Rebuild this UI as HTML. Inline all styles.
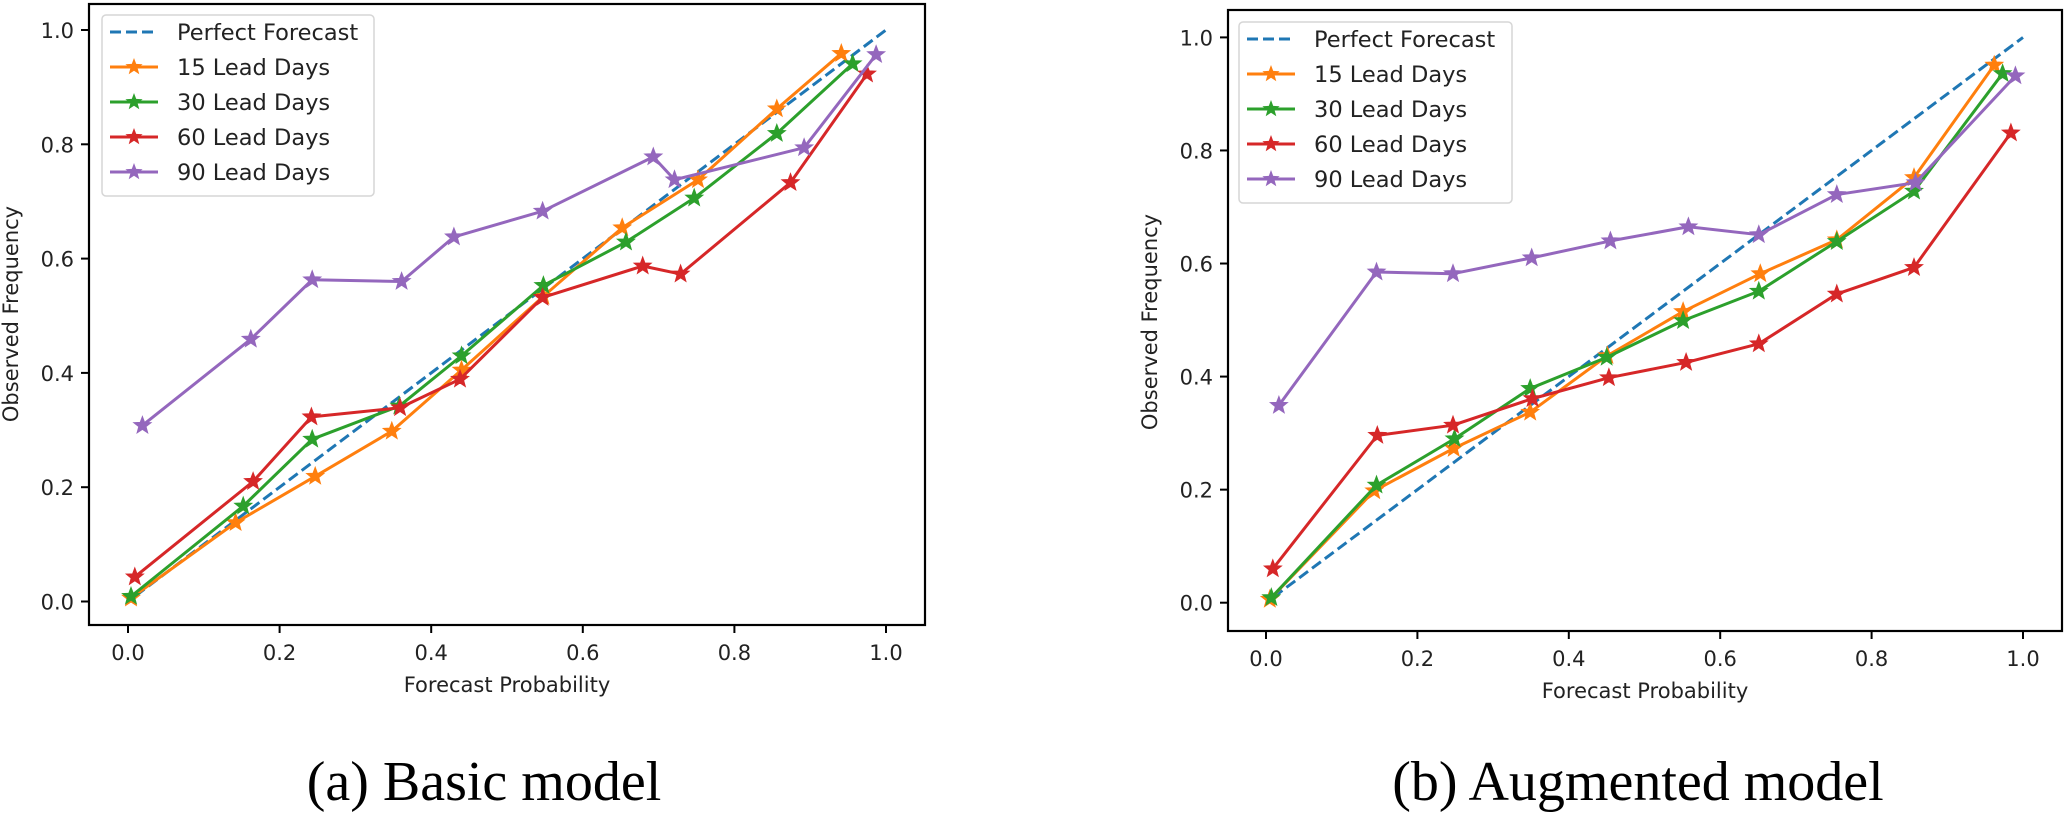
<!DOCTYPE html>
<html><head><meta charset="utf-8"><style>
html,body{margin:0;padding:0;background:#fff;}
svg{display:block;font-family:"DejaVu Sans","Liberation Sans",sans-serif;}
</style></head><body>
<svg id="chart" width="2067" height="815" viewBox="0 0 2067 815"></svg>
<script>
const categoriesSeries = ["Perfect Forecast","15 Lead Days","30 Lead Days","60 Lead Days","90 Lead Days"];
const colors = ["#1f77b4","#ff7f0e","#2ca02c","#d62728","#9467bd"];
const tickVals = [0,0.2,0.4,0.6,0.8,1.0];
const tickLabels = ["0.0","0.2","0.4","0.6","0.8","1.0"];

const a15x=[0.004,0.142,0.247,0.348,0.44,0.548,0.652,0.752,0.856,0.941];
const a15y=[0.006,0.138,0.219,0.298,0.405,0.534,0.654,0.738,0.862,0.959];
const a30x=[0.004,0.152,0.243,0.358,0.44,0.548,0.657,0.747,0.856,0.956];
const a30y=[0.009,0.167,0.284,0.342,0.43,0.553,0.629,0.706,0.819,0.941];
const a60x=[0.009,0.165,0.242,0.359,0.438,0.547,0.679,0.729,0.874,0.975];
const a60y=[0.043,0.21,0.323,0.339,0.389,0.532,0.587,0.573,0.733,0.923];
const a90x=[0.019,0.162,0.243,0.361,0.43,0.547,0.693,0.721,0.892,0.987];
const a90y=[0.308,0.459,0.563,0.56,0.638,0.683,0.778,0.738,0.794,0.957];

const b15x=[0.005,0.143,0.248,0.349,0.451,0.551,0.653,0.754,0.856,0.962];
const b15y=[0.006,0.198,0.273,0.337,0.437,0.515,0.582,0.642,0.752,0.951];
const b30x=[0.007,0.146,0.249,0.349,0.45,0.551,0.651,0.754,0.856,0.973];
const b30y=[0.009,0.208,0.29,0.379,0.434,0.499,0.551,0.639,0.728,0.936];
const b60x=[0.009,0.147,0.247,0.352,0.453,0.555,0.651,0.754,0.856,0.984];
const b60y=[0.06,0.296,0.314,0.361,0.398,0.425,0.458,0.546,0.593,0.831];
const b90x=[0.017,0.146,0.247,0.351,0.455,0.558,0.651,0.754,0.858,0.99];
const b90y=[0.349,0.585,0.582,0.61,0.64,0.665,0.651,0.722,0.743,0.932];

const perfectX=[0.01,1.0];
const perfectY=[0.01,1.0];

const NS="http://www.w3.org/2000/svg";
const svg=document.getElementById('chart');
function mk(tag,attrs,parent){const e=document.createElementNS(NS,tag);for(const k in attrs)e.setAttribute(k,attrs[k]);(parent||svg).appendChild(e);return e;}
function starPts(cx,cy,R){const r=R*0.42;let p=[];for(let i=0;i<10;i++){const ang=-Math.PI/2+i*Math.PI/5;const rr=i%2?r:R;p.push((cx+rr*Math.cos(ang)).toFixed(1)+","+(cy+rr*Math.sin(ang)).toFixed(1));}return p.join(" ");}

function panel(cfg){
  const g=mk('g',{});
  
  
  const sx=v=>cfg.x0+v*cfg.xu, sy=v=>cfg.y0-v*cfg.yu;
  // series
  const series=cfg.series;
  // perfect
  const pl=mk('polyline',{points:perfectX.map((x,i)=>sx(x)+","+sy(perfectY[i])).join(" "),fill:"none",stroke:colors[0],"stroke-width":3,"stroke-dasharray":"11,5"},g);
  
  
  series.forEach((s,k)=>{
    const c=colors[k+1];
    const line=mk('polyline',{points:s[0].map((x,i)=>sx(x)+","+sy(s[1][i])).join(" "),fill:"none",stroke:c,"stroke-width":3,"stroke-linejoin":"round"},g);
    
    
    s[0].forEach((x,i)=>{
      const m=mk('polygon',{points:starPts(sx(x),sy(s[1][i]),9),fill:c,stroke:c,"stroke-width":1},g);
      
      
    });
  });
  // axes frame
  const fr=mk('rect',{x:cfg.L,y:cfg.T,width:cfg.R-cfg.L,height:cfg.B-cfg.T,fill:"none",stroke:"#000","stroke-width":2.2},g);
  
  
  tickVals.forEach((v,i)=>{
    mk('line',{x1:sx(v),x2:sx(v),y1:cfg.B,y2:cfg.B+8,stroke:"#000","stroke-width":2},g);
    const tx=mk('text',{x:sx(v),y:cfg.B+35,"text-anchor":"middle","font-size":21,fill:"#222"},g);
    tx.textContent=tickLabels[i];
    
    
    mk('line',{x1:cfg.L-8,x2:cfg.L,y1:sy(v),y2:sy(v),stroke:"#000","stroke-width":2},g);
    const ty=mk('text',{x:cfg.L-15,y:sy(v)+8,"text-anchor":"end","font-size":21,fill:"#222"},g);
    ty.textContent=tickLabels[i];
    
    
  });
  const xl=mk('text',{x:(cfg.L+cfg.R)/2,y:cfg.B+67,"text-anchor":"middle","font-size":21,fill:"#222"},g);
  xl.textContent="Forecast Probability";
  
  
  const yl=mk('text',{x:0,y:0,"text-anchor":"middle","font-size":21,fill:"#222",transform:`translate(${cfg.ylx},${cfg.yly}) rotate(-90)`},g);
  yl.textContent="Observed Frequency";
  
  
  // legend
  const lg=mk('g',{},g);
  
  
  mk('rect',{x:cfg.lx,y:cfg.ly,width:cfg.lw,height:181,rx:4,fill:"#fff","fill-opacity":0.85,stroke:"#d6d6d6","stroke-width":1.5},lg);
  categoriesSeries.forEach((n,k)=>{
    const yy=cfg.ly+17+k*35;
    const hx=cfg.lx+8;
    if(k===0) mk('line',{x1:hx,x2:hx+48,y1:yy,y2:yy,stroke:colors[0],"stroke-width":3,"stroke-dasharray":"11,5"},lg);
    else {mk('line',{x1:hx,x2:hx+48,y1:yy,y2:yy,stroke:colors[k],"stroke-width":3},lg);mk('polygon',{points:starPts(hx+24,yy,9),fill:colors[k]},lg);}
    const t=mk('text',{x:hx+67,y:yy+8,"font-size":22.5,fill:"#222"},lg);
    t.textContent=n;
    
    
  });
  const cap=mk('text',{x:cfg.capx,y:800,"text-anchor":"middle","font-size":56,"font-family":"Liberation Serif, serif",fill:"#000"},g);
  cap.textContent=cfg.caption;
  
  
}

panel({name:'panel-basic-model',x0:128,xu:758,y0:601.5,yu:571.5,L:89,R:925,T:4,B:625,ylx:18,yly:314,lx:102,ly:15,lw:272,capx:484,caption:"(a) Basic model",
  series:[[a15x,a15y],[a30x,a30y],[a60x,a60y],[a90x,a90y]]});
panel({name:'panel-augmented-model',x0:1266,xu:757,y0:602.7,yu:565.3,L:1228,R:2062,T:10,B:631,ylx:1157,yly:322,lx:1239,ly:22,lw:273,capx:1638,caption:"(b) Augmented model",
  series:[[b15x,b15y],[b30x,b30y],[b60x,b60y],[b90x,b90y]]});
</script>
</body></html>
